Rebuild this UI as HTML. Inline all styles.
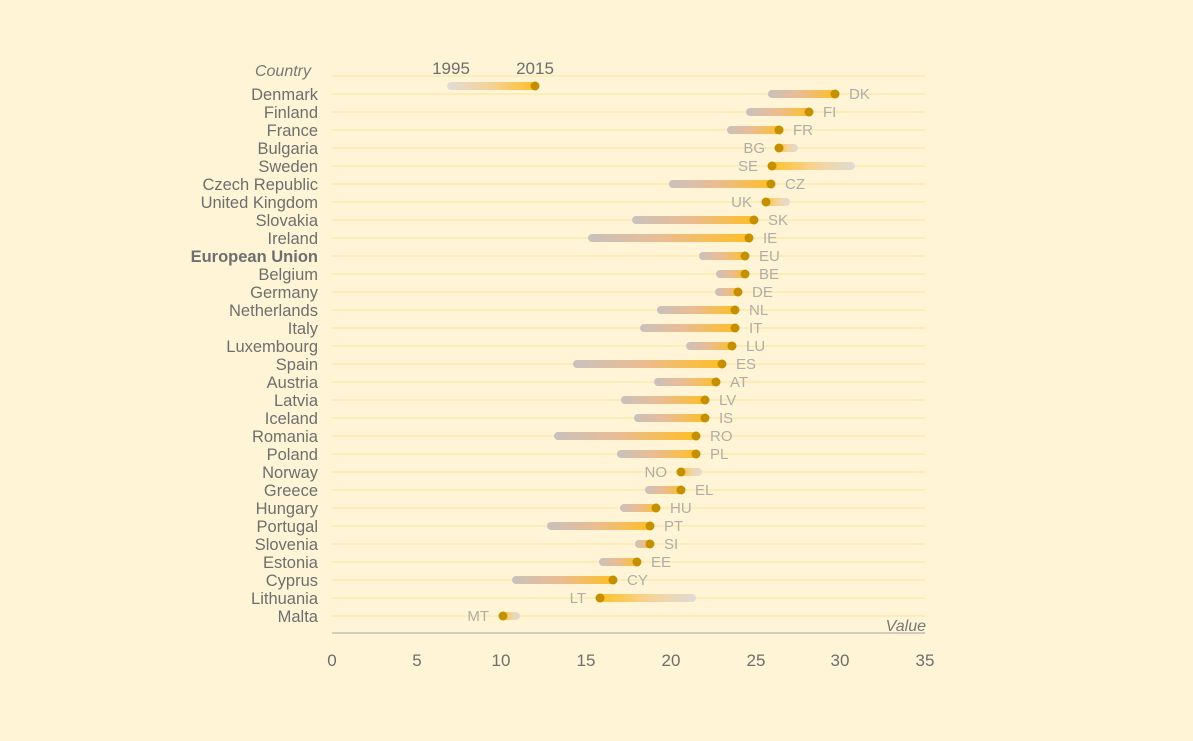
<!DOCTYPE html><html><head><meta charset="utf-8"><style>body{margin:0;background:#fff5d6}svg{display:block}text{font-family:"Liberation Sans",sans-serif}</style></head><body>
<svg width="1193" height="741" xmlns="http://www.w3.org/2000/svg">
<defs>
<linearGradient id="up" x1="0" x2="1"><stop offset="0" stop-color="#c9c1bd"/><stop offset="0.45" stop-color="#ebbc92"/><stop offset="1" stop-color="#ffbf1f"/></linearGradient>
<linearGradient id="dn" x1="0" x2="1"><stop offset="0" stop-color="#ffbf1f"/><stop offset="0.55" stop-color="#f5d49a"/><stop offset="1" stop-color="#e0dbd6"/></linearGradient>
<linearGradient id="lg" x1="0" x2="1"><stop offset="0" stop-color="#e0dcd6"/><stop offset="0.45" stop-color="#f3d39c"/><stop offset="1" stop-color="#ffbf1f"/></linearGradient>
</defs>
<rect width="1193" height="741" fill="#fff5d6"/>
<g id="g"></g>
<line x1="332" y1="633" x2="925" y2="633" stroke="#b8b4ae" stroke-width="1.2"/>
<g font-size="17" fill="#6e6e6e" text-anchor="middle">
<text x="332" y="666">0</text><text x="417" y="666">5</text><text x="501" y="666">10</text><text x="586" y="666">15</text><text x="671" y="666">20</text><text x="756" y="666">25</text><text x="840" y="666">30</text><text x="925" y="666">35</text>
</g>
<text x="311" y="76" font-size="16" font-style="italic" fill="#777" text-anchor="end">Country</text>
<text x="926" y="631" font-size="16" font-style="italic" fill="#777" text-anchor="end">Value</text>
<text x="451" y="74" font-size="17" fill="#6e6e6e" text-anchor="middle">1995</text>
<text x="535" y="74" font-size="17" fill="#6e6e6e" text-anchor="middle">2015</text>
<rect x="447" y="82" width="92" height="8" rx="4" fill="url(#lg)"/>
<circle cx="535" cy="86" r="4.5" fill="#c59000"/>
</svg>
<script>
var d=[["Denmark","DK",768,835],["Finland","FI",746,809],["France","FR",727,779],["Bulgaria","BG",798,779],["Sweden","SE",855,772],["Czech Republic","CZ",669,771],["United Kingdom","UK",790,766],["Slovakia","SK",632,754],["Ireland","IE",588,749],["European Union","EU",699,745],["Belgium","BE",716,745],["Germany","DE",715,738],["Netherlands","NL",657,735],["Italy","IT",640,735],["Luxembourg","LU",686,732],["Spain","ES",573,722],["Austria","AT",654,716],["Latvia","LV",621,705],["Iceland","IS",634,705],["Romania","RO",554,696],["Poland","PL",617,696],["Norway","NO",702,681],["Greece","EL",645,681],["Hungary","HU",620,656],["Portugal","PT",547,650],["Slovenia","SI",635,650],["Estonia","EE",599,637],["Cyprus","CY",512,613],["Lithuania","LT",696,600],["Malta","MT",520,503]];
var s="";
s+='<line x1="332" x2="925" y1="76" y2="76" stroke="#fbe39a" stroke-width="1"/>';
d.forEach(function(r,i){var y=94+i*18;
s+='<line x1="332" x2="925" y1="'+y+'" y2="'+y+'" stroke="#fbe39a" stroke-width="1"/>';
var up=r[3]>=r[2],a=Math.min(r[2],r[3]),b=Math.max(r[2],r[3]);
var x0=up?a:a-4, w=b-a+4;
s+='<rect x="'+x0+'" y="'+(y-4)+'" width="'+w+'" height="8" rx="4" fill="url(#'+(up?'up':'dn')+')"/>';
s+='<circle cx="'+r[3]+'" cy="'+y+'" r="4.5" fill="#c59000"/>';
s+='<text x="'+(up?r[3]+14:r[3]-14)+'" y="'+(y+5)+'" font-size="15" fill="#b0aca6" text-anchor="'+(up?'start':'end')+'">'+r[1]+'</text>';
s+='<text x="318" y="'+(y+6)+'" font-size="16.5" fill="#6e6e6e" text-anchor="end"'+(r[1]=="EU"?' font-weight="bold"':'')+'>'+r[0]+'</text>';});
document.getElementById("g").innerHTML=s;
</script>
</body></html>
